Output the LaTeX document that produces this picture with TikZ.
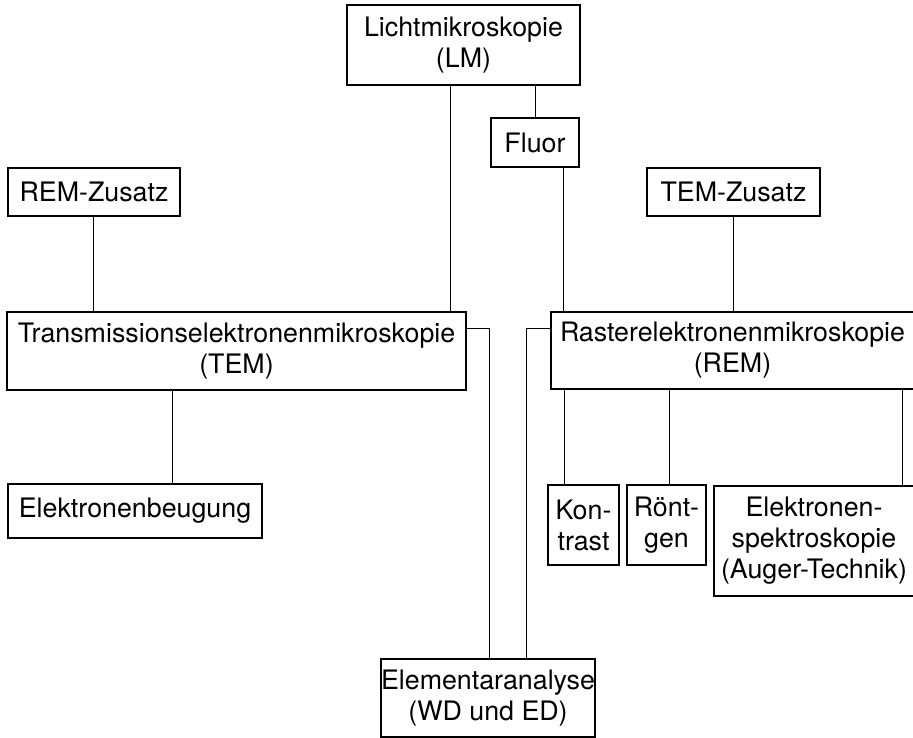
\documentclass[tikz,border=0pt]{standalone}
\usepackage{fontspec}
\setmainfont{TeX Gyre Heros}
\begin{document}
\begin{tikzpicture}[x=1pt,y=-1pt,
  box/.style={draw, line width=1.5pt, inner sep=0pt, align=center,
    font=\fontsize{26.8}{31}\selectfont},
  conn/.style={line width=1.0pt}]
\useasboundingbox (0,0) rectangle (913,738);
\clip (0,0) rectangle (913,738);
\node[box, minimum width=233pt, minimum height=80pt] (LM) at (463.5,45) {Lichtmikroskopie\\(LM)};
\node[box, minimum width=88pt, minimum height=49pt] (Fluor) at (535,142.5) {Fluor};
\node[box, minimum width=172pt, minimum height=48pt] (RZ) at (94,192) {REM-Zusatz};
\node[box, minimum width=173pt, minimum height=48pt] (TZ) at (733.5,192) {TEM-Zusatz};
\node[box, minimum width=459pt, minimum height=78pt] (TEM) at (236.5,351) {Transmissionselektronenmikroskopie\\(TEM)};
\node[box, minimum width=363pt, minimum height=77pt] (REM) at (732.5,350.5) {Rasterelektronenmikroskopie\\(REM)};
\node[box, minimum width=254pt, minimum height=54pt] (EB) at (135,511) {Elektronenbeugung};
\node[box, minimum width=71pt, minimum height=80pt] (KO) at (583.5,525) {Kon-\\trast};
\node[box, minimum width=79pt, minimum height=80pt] (RO) at (666.5,525) {Rönt-\\gen};
\node[box, minimum width=200pt, minimum height=110pt] (ES) at (814,541) {Elektronen-\\spektroskopie\\(Auger-Technik)};
\node[box, minimum width=186pt, minimum height=78pt] (EA) at (488,698) {Elementaranalyse\\(WD und ED)};

\draw[conn] (LM.south -| 450.5,0) -- (TEM.north -| 450.5,0);
\draw[conn] (LM.south -| Fluor.north) -- (Fluor.north);
\draw[conn] (Fluor.south -| 563,0) -- (REM.north -| 563,0);
\draw[conn] (RZ.south -| 93,0) -- (TEM.north -| 93,0);
\draw[conn] (TZ.south) -- (TZ.south |- REM.north);
\draw[conn] (TEM.south -| 172,0) -- (EB.north -| 172,0);
\draw[conn] (REM.south -| 564,0) -- (KO.north -| 564,0);
\draw[conn] (REM.south -| 669,0) -- (RO.north -| 669,0);
\draw[conn] (REM.south -| 902,0) -- (ES.north -| 902,0);
\draw[conn] (TEM.east |- 0,328) -| (EA.north -| 489,0);
\draw[conn] (REM.west |- 0,328) -| (EA.north -| 526,0);
\end{tikzpicture}
\end{document}
